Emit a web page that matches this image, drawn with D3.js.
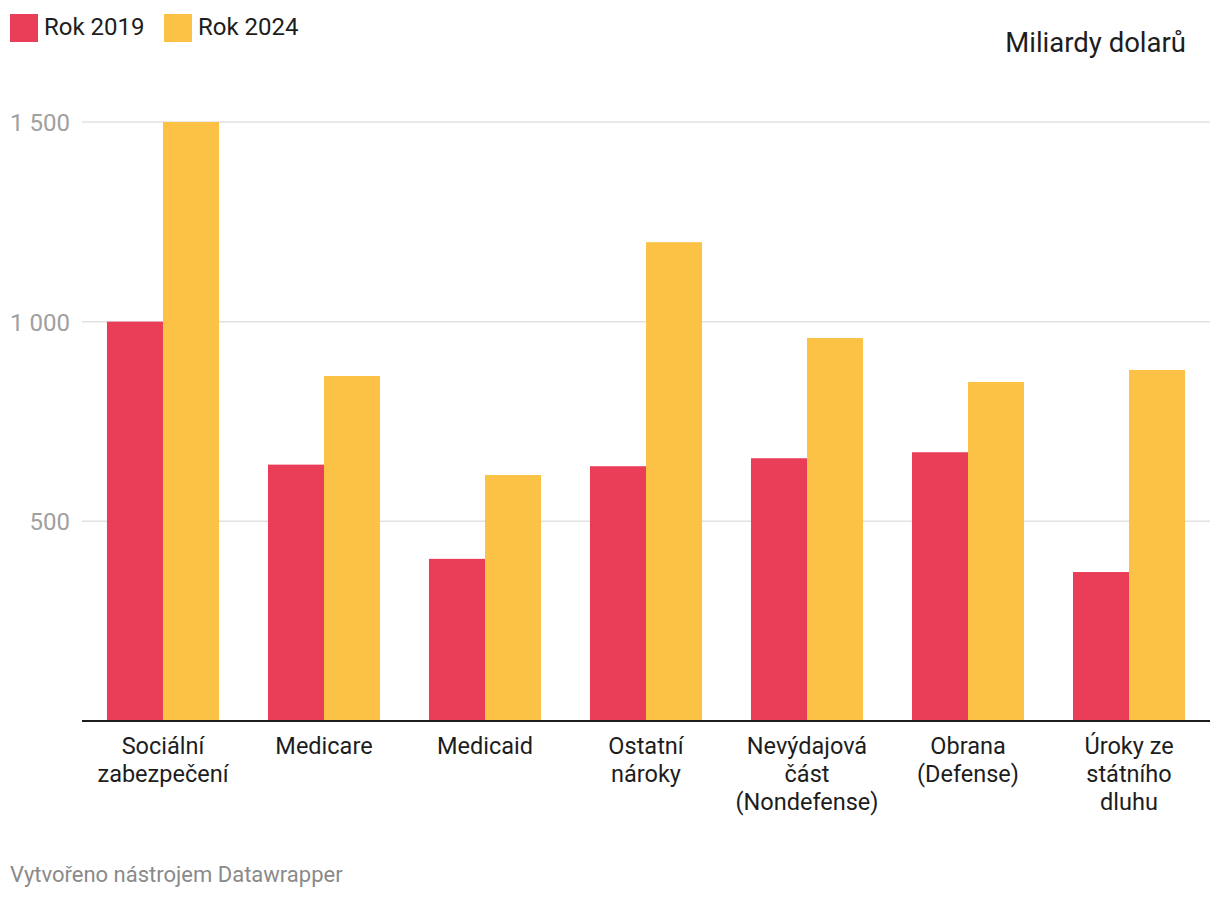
<!DOCTYPE html>
<html lang="cs">
<head>
  <meta charset="UTF-8">
  <title>Výdaje 2019 vs 2024</title>
  <script src="https://d3js.org/d3.v7.min.js"></script>
  <style>
    body { margin: 0; background: #fff; font-family: Roboto, "Noto Sans", sans-serif; }
    .tick-label { fill: #a0a0a0; font-size: 24px; }
    .cat-label { fill: #1d1d1d; font-size: 23.5px; text-anchor: middle; }
    .legend-text { fill: #1d1d1d; font-size: 24px; }
  </style>
</head>
<body>
  <svg id="chart" width="1220" height="900"></svg>
  <script>
    // data
    const categories = [
      ["Sociální", "zabezpečení"],
      ["Medicare"],
      ["Medicaid"],
      ["Ostatní", "nároky"],
      ["Nevýdajová", "část", "(Nondefense)"],
      ["Obrana", "(Defense)"],
      ["Úroky ze", "státního", "dluhu"]
    ];
    const series = ["Rok 2019", "Rok 2024"];
    const values2019 = [1000, 642, 406, 638, 658, 673, 373];
    const values2024 = [1500, 864, 616, 1199, 959, 849, 879];
    const yTicks = [500, 1000, 1500];
    const colors = ["#e93d58", "#fbc245"];

    const svg = d3.select("#chart");
    const plotLeft = 82, plotRight = 1210, plotTop = 122, plotBottom = 721;

    const x = d3.scaleBand()
      .domain(d3.range(categories.length))
      .range([plotLeft, plotRight])
      .paddingInner(0.304)
      .paddingOuter(0.155);
    const xs = d3.scaleBand().domain([0, 1]).range([0, x.bandwidth()]);
    const y = d3.scaleLinear().domain([0, 1500]).range([plotBottom, plotTop]);

    // gridlines + labels
    const ticks = svg.append("g");
    ticks.selectAll("line").data(yTicks).enter().append("line")
      .attr("x1", plotLeft).attr("x2", plotRight)
      .attr("y1", d => y(d)).attr("y2", d => y(d))
      .attr("stroke", "#e2e2e2").attr("stroke-width", 1.5);
    ticks.selectAll("text").data(yTicks).enter().append("text")
      .attr("class", "tick-label")
      .attr("x", 70).attr("y", d => y(d) + 9)
      .attr("text-anchor", "end")
      .text(d => d3.format(",")(d).replace(",", " "));

    // bars
    const data = categories.map((c, i) => [values2019[i], values2024[i]]);
    const groups = svg.append("g").selectAll("g").data(data).enter().append("g")
      .attr("transform", (d, i) => `translate(${x(i)},0)`);
    groups.selectAll("rect").data(d => d).enter().append("rect")
      .attr("x", (d, j) => xs(j))
      .attr("width", xs.bandwidth())
      .attr("y", d => y(d))
      .attr("height", d => plotBottom - y(d))
      .attr("fill", (d, j) => colors[j]);

    // baseline
    svg.append("line")
      .attr("x1", plotLeft).attr("x2", plotRight)
      .attr("y1", plotBottom).attr("y2", plotBottom)
      .attr("stroke", "#1d1d1d").attr("stroke-width", 2);

    // category labels
    const catText = svg.append("g").selectAll("text").data(categories).enter().append("text")
      .attr("class", "cat-label")
      .attr("x", (d, i) => x(i) + x.bandwidth() / 2)
      .attr("y", 754);
    catText.selectAll("tspan").data(d => d).enter().append("tspan")
      .attr("x", function () { return d3.select(this.parentNode).attr("x"); })
      .attr("dy", (d, i) => i === 0 ? 0 : 28)
      .text(d => d);

    // legend
    const legend = svg.append("g").selectAll("g").data(series).enter().append("g")
      .attr("transform", (d, i) => `translate(${[10, 164][i]},14)`);
    legend.append("rect").attr("width", 28).attr("height", 28).attr("fill", (d, i) => colors[i]);
    legend.append("text").attr("class", "legend-text").attr("x", 34).attr("y", 21).text(d => d);

    // unit label
    svg.append("text")
      .attr("x", 1186).attr("y", 52)
      .attr("text-anchor", "end")
      .attr("fill", "#1d1d1d").attr("font-size", 27.5)
      .text("Miliardy dolarů");

    // footer
    svg.append("text")
      .attr("x", 10).attr("y", 882)
      .attr("fill", "#8a8a8a").attr("font-size", 22)
      .text("Vytvořeno nástrojem Datawrapper");
  </script>
</body>
</html>
